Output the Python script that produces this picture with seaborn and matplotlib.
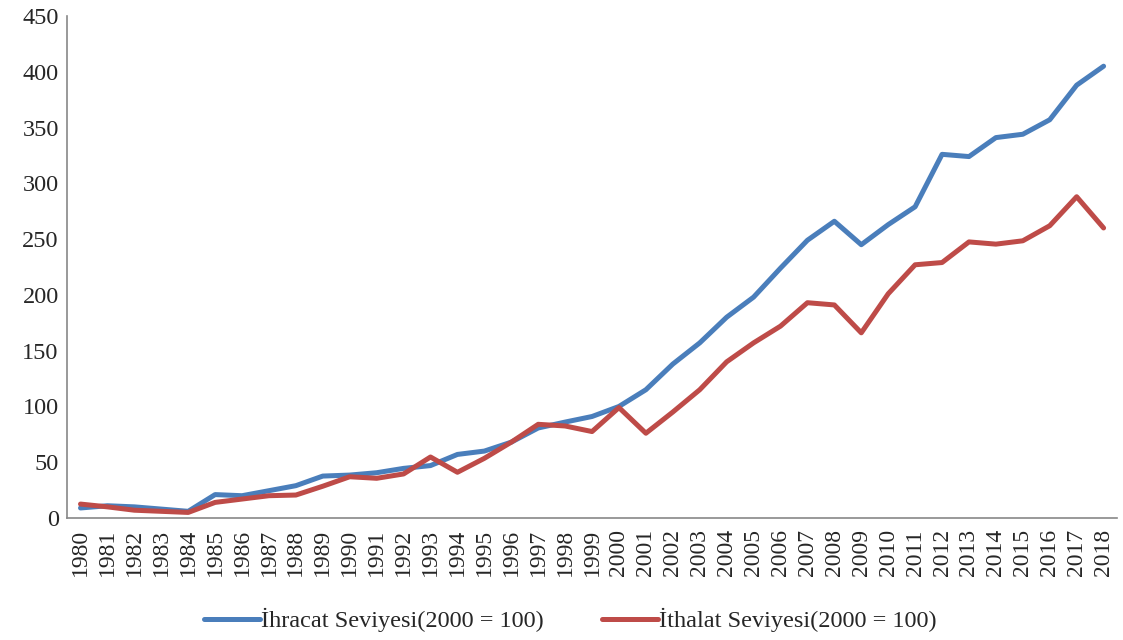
import numpy as np
import pandas as pd
import matplotlib
matplotlib.use("Agg")
import matplotlib.pyplot as plt
import seaborn as sns

years = [str(y) for y in range(1980, 2019)]
ihracat = [9, 11, 10, 8, 6, 21, 20, 24.5, 29, 37.6, 38.5, 40.6, 44.5, 47, 57, 60,
           68, 80.7, 86, 91, 100, 115, 138, 157, 180, 198, 224, 249, 266, 245,
           263, 279, 326, 324, 341, 344, 357, 388, 405]
ithalat = [12.5, 10, 7, 6, 5, 14, 17, 20, 20.6, 28.5, 37, 35.6, 39.5, 54.7, 41, 53.5,
           68, 84, 82.5, 77.5, 99, 76, 95, 115, 140, 157, 172, 193, 191, 166,
           201, 227, 229, 247.5, 245.5, 248.5, 262, 288, 260]

lbl_ihr = "İhracat Seviyesi(2000 = 100)"
lbl_ith = "İthalat Seviyesi(2000 = 100)"

df = pd.DataFrame({"Yıl": years * 2,
                   "Değer": ihracat + ithalat,
                   "Seri": [lbl_ihr] * len(years) + [lbl_ith] * len(years)})

sns.set_style("white")
plt.rcParams["font.family"] = ["Liberation Serif", "DejaVu Serif"]

fig = plt.figure(figsize=(11.23, 6.4), dpi=100)
ax = fig.add_axes([0.0597, 0.1906, 0.935, 0.7844])

sns.lineplot(data=df, x="Yıl", y="Değer", hue="Seri",
             palette=["#4A7EBB", "#BE4B48"], linewidth=3.6, ax=ax, sort=False)

ax.set_xlim(-0.5, len(years) - 0.5)
ax.set_ylim(0, 450)
ax.set_yticks(range(0, 451, 50))
ax.set_xticks(range(len(years)))
ax.set_xticklabels(years, rotation=90)
ax.tick_params(axis="y", labelsize=17.5, length=0, pad=6)
ax.tick_params(axis="x", labelsize=17, length=0, pad=8)
ax.set_xlabel("")
ax.set_ylabel("")
for s in ["top", "right"]:
    ax.spines[s].set_visible(False)
for s in ["left", "bottom"]:
    ax.spines[s].set_color("#888888")
    ax.spines[s].set_linewidth(1.2)

handles, labels = ax.get_legend_handles_labels()
ax.get_legend().remove()
fig.legend(handles, labels, loc="center", bbox_to_anchor=(0.508, 0.031), ncol=2,
           frameon=False, fontsize=17.5, handlelength=2.3, columnspacing=2.4,
           handletextpad=0.05)

fig.savefig("out.png", dpi=100)
